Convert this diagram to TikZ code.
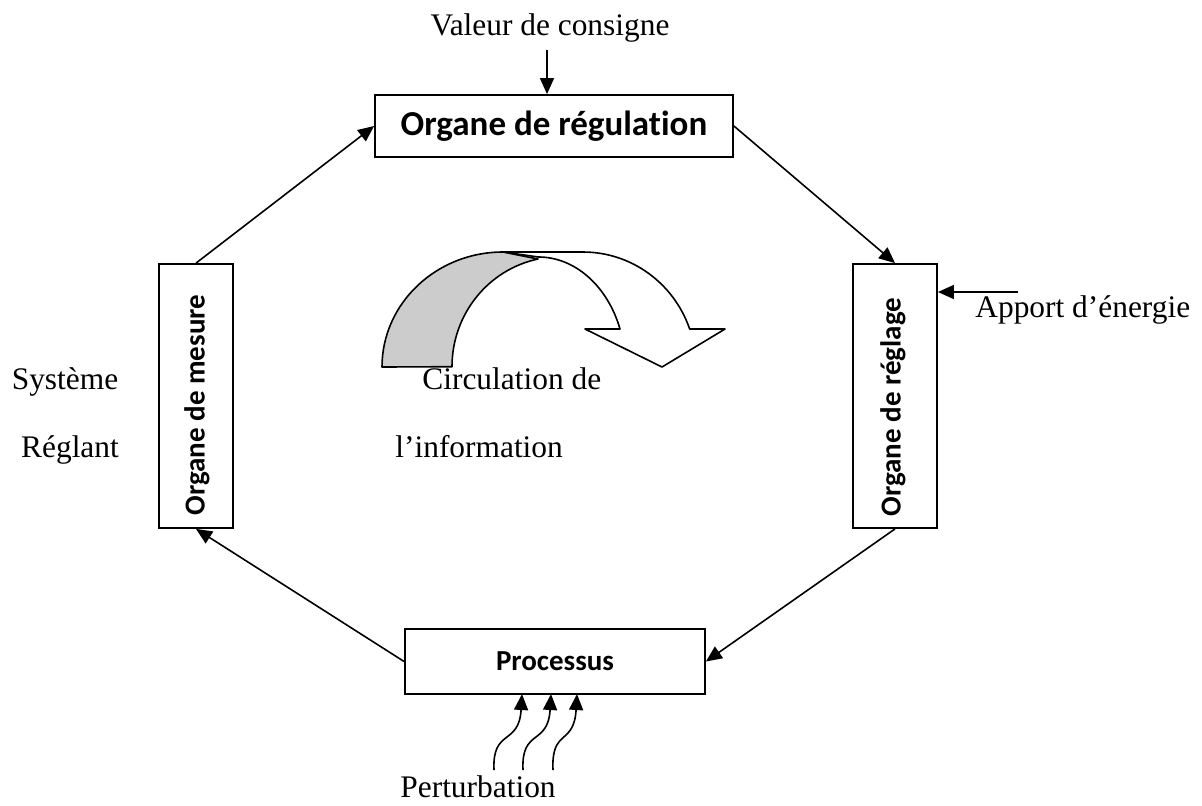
\documentclass[tikz,border=0pt]{standalone}
\usepackage{fontspec}
\setmainfont{Liberation Serif}
\newfontfamily\boxfont{Carlito}[Ligatures=NoCommon]
\usetikzlibrary{arrows.meta,calc}

\tikzset{
  box/.style={draw, line width=0.9pt, rectangle, inner sep=0pt, align=center,
    font=\boxfont\bfseries\fontsize{14.5}{17}\selectfont},
  boxtext/.style={inner sep=0pt, font=\boxfont\bfseries\fontsize{14.5}{17}\selectfont},
  link/.style={line width=0.8pt, -{Triangle[length=8pt,width=7pt]}},
  lbl/.style={inner sep=0pt, font=\fontsize{15.7}{19}\selectfont},
  band/.style={draw, line width=0.8pt, line join=round},
}

\begin{document}
\begin{tikzpicture}[x=0.5pt,y=-0.5pt]
\useasboundingbox (0,0) rectangle (1202,805);

% blocks of the control loop
\node[box, minimum width=179pt, minimum height=31pt,
      font=\boxfont\bfseries\fontsize{17.5}{21}\selectfont] (reg) at (554,126) {Organe de régulation};
\node[box, minimum width=37pt, minimum height=132pt] (mes) at (196,396) {};
\node[boxtext] (mes-t) at (197,405) {\rotatebox{90}{Organe de mesure}};
\node[box, minimum width=42pt, minimum height=132pt] (regl) at (895,396) {};
\node[boxtext] (regl-t) at (893,407) {\rotatebox{90}{Organe de réglage}};
\node[box, minimum width=150pt, minimum height=32.5pt] (proc) at (555,661.5) {Processus};

% loop connectors
\draw[link] (mes.north) -- (reg.west);
\draw[link] (reg.east) -- (regl.north);
\draw[link] (regl.south) -- (proc.east);
\draw[link] (proc.west) -- (mes.south);

% external inputs
\node[lbl, anchor=base] (vc-t) at (550,35) {Valeur de consigne};
\coordinate (vc) at (547,50);
\draw[link] (vc) -- (vc |- reg.north);

\node[lbl, anchor=base west] (ae-t) at (975,317) {Apport d’énergie};
\coordinate (ae) at (1018,292);
\draw[link] (ae) -- (ae -| regl.east);

% disturbances acting on the process
\node[lbl, anchor=base west] (pert) at (400,797) {Perturbation};
\coordinate (w1) at (494,770); \coordinate (t1) at (522,694);
\coordinate (w2) at (523,770); \coordinate (t2) at (551,694);
\coordinate (w3) at (553,770); \coordinate (t3) at (577,694);
\foreach \i in {1,2,3}
  \draw[link] (w\i) .. controls ($(w\i)+(-2,-42)$) and ($(t\i)+(-3,52)$) .. (t\i);

% side labels
\node[lbl, anchor=base] (sys1) at (65,389) {Système};
\node[lbl, anchor=base] (sys2) at (70,457) {Réglant};
\node[lbl, anchor=base west] (ci1) at (422,389) {Circulation de};
\node[lbl, anchor=base west] (ci2) at (395,457) {l’information};

% curved arrow showing the flow of information
\draw[band, fill=white] (503,252) -- (583,252)
  arc[start angle=270, end angle=340.7, x radius=113, y radius=115]
  -- (725,329) -- (662,367) -- (585,329) -- (620,329)
  arc[start angle=339.8, end angle=270, x radius=87, y radius=110] -- cycle;
\draw[band, fill=gray!40] (382,367)
  arc[start angle=180, end angle=270, x radius=121, y radius=115]
  -- (538,259)
  arc[start angle=258.25, end angle=180, x radius=108, y radius=110] -- cycle;
\end{tikzpicture}
\end{document}
